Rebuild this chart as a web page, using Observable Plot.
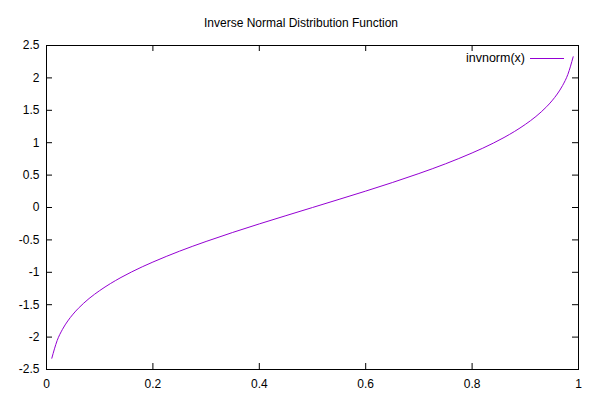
<!DOCTYPE html>
<html>
<head>
<meta charset="utf-8">
<script src="https://cdn.jsdelivr.net/npm/d3@7"></script>
<script src="https://cdn.jsdelivr.net/npm/@observablehq/plot@0.6"></script>
<style>
  html, body { margin: 0; padding: 0; background: #fff; }
  #chart svg { font-family: "Liberation Sans", Arial, sans-serif; display: block; }
</style>
</head>
<body>
<div id="chart"></div>
<script>
// Data
const xs = [0.01, 0.02, 0.03, 0.04, 0.05, 0.06, 0.07, 0.08, 0.10, 0.12, 0.14, 0.16, 0.18, 0.20, 0.25, 0.30, 0.35, 0.40, 0.45, 0.50,
            0.55, 0.60, 0.65, 0.70, 0.75, 0.80, 0.82, 0.84, 0.86, 0.88, 0.90, 0.92, 0.93, 0.94, 0.95, 0.96, 0.97, 0.98, 0.99];
const ys = [-2.326, -2.054, -1.881, -1.751, -1.645, -1.555, -1.476, -1.405, -1.282, -1.175, -1.080, -0.994, -0.915, -0.842, -0.674, -0.524, -0.385, -0.253, -0.126, 0.0,
            0.126, 0.253, 0.385, 0.524, 0.674, 0.842, 0.915, 0.994, 1.080, 1.175, 1.282, 1.405, 1.476, 1.555, 1.645, 1.751, 1.881, 2.054, 2.326];
const xTicks = [0, 0.2, 0.4, 0.6, 0.8, 1];
const yTicks = [-2.5, -2, -1.5, -1, -0.5, 0, 0.5, 1, 1.5, 2, 2.5];
const title = "Inverse Normal Distribution Function";
const seriesName = "invnorm(x)";
const color = "#9400d3";

const data = xs.map((x, i) => ({x, y: ys[i]}));

const W = 600, H = 400;
const mL = 46, mR = 22, mT = 45, mB = 31;
const pw = W - mL - mR, ph = H - mT - mB;
const tick = 6;

const fmt = d => String(d);

const plot = Plot.plot({
  width: W, height: H,
  marginLeft: mL, marginRight: mR, marginTop: mT, marginBottom: mB,
  style: {fontSize: "12px", fontFamily: "Liberation Sans, Arial, sans-serif", color: "#000", background: "#fff"},
  x: {domain: [0, 1], ticks: xTicks},
  y: {domain: [-2.5, 2.5], ticks: yTicks},
  marks: [
    Plot.axisX(xTicks, {tickSize: 0, tickPadding: 10, tickFormat: fmt, label: null, fontSize: 12, fill: "#000"}),
    Plot.axisY(yTicks, {tickSize: 0, tickPadding: 7, tickFormat: fmt, label: null, fontSize: 12, fill: "#000"}),
    // inward ticks on all four sides
    Plot.ruleX(xTicks.slice(1, -1), {insetTop: ph - tick, stroke: "#000"}),
    Plot.ruleX(xTicks.slice(1, -1), {insetBottom: ph - tick, stroke: "#000"}),
    Plot.ruleY(yTicks.slice(1, -1), {insetRight: pw - tick, stroke: "#000"}),
    Plot.ruleY(yTicks.slice(1, -1), {insetLeft: pw - tick, stroke: "#000"}),
    Plot.line(data, {x: "x", y: "y", stroke: color, strokeWidth: 1, curve: "monotone-x"}),
    Plot.frame({stroke: "#000", strokeWidth: 1})
  ]
});

const svg = d3.select(plot);
svg.append("text")
  .attr("x", 301).attr("y", 27)
  .attr("text-anchor", "middle")
  .attr("font-size", 12)
  .attr("fill", "#000")
  .text(title);
svg.append("text")
  .attr("x", 525).attr("y", 62)
  .attr("text-anchor", "end")
  .attr("font-size", 12.5)
  .attr("fill", "#000")
  .text(seriesName);
svg.append("line")
  .attr("x1", 530).attr("x2", 564)
  .attr("y1", 58.5).attr("y2", 58.5)
  .attr("stroke", color).attr("stroke-width", 1);

document.getElementById("chart").appendChild(plot);
</script>
</body>
</html>
